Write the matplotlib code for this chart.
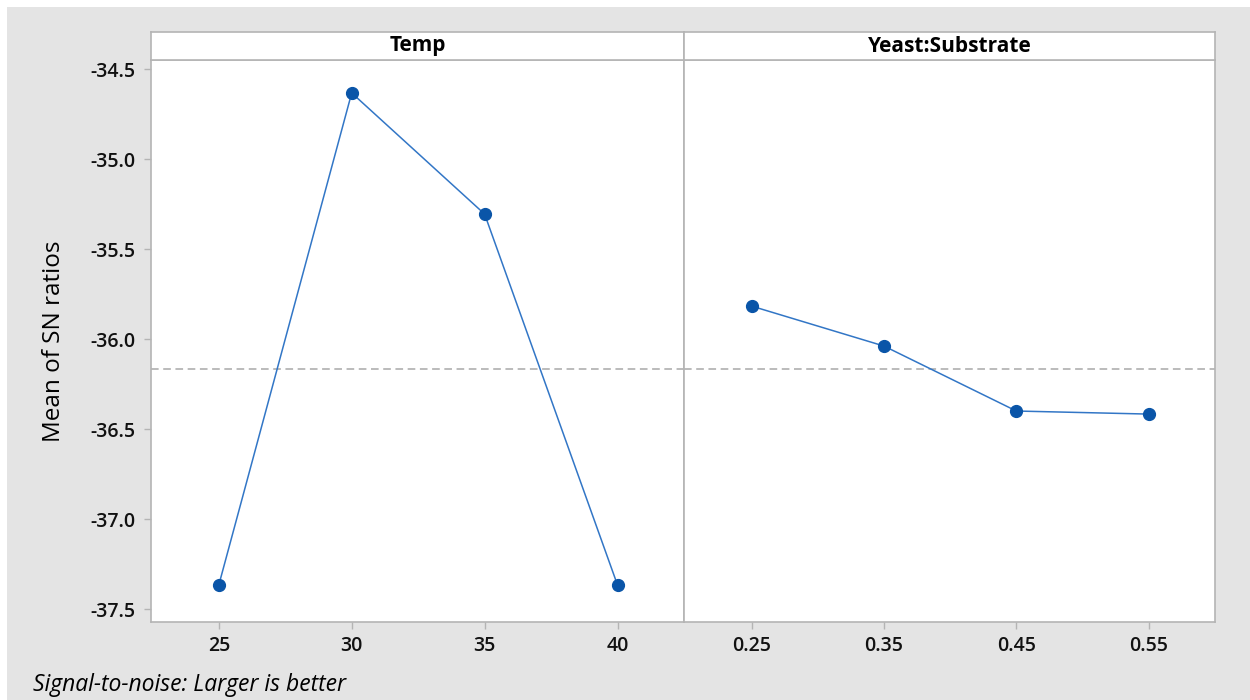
import numpy as np
import matplotlib.pyplot as plt
from matplotlib.patches import Rectangle

plt.rcParams['font.family'] = ['Open Sans', 'DejaVu Sans']

# data
temp_levels = ["25", "30", "35", "40"]
temp_sn = [-37.367, -34.633, -35.306, -37.367]
ys_levels = ["0.25", "0.35", "0.45", "0.55"]
ys_sn = [-35.817, -36.039, -36.400, -36.417]
panel_titles = ["Temp", "Yeast:Substrate"]

grand_mean = np.mean(temp_sn + ys_sn)

line_col = "#3276c6"
mark_col = "#0a55a8"
edge_col = "#b4b4b4"

fig = plt.figure(figsize=(12.5, 7), dpi=100)
fig.patches.append(Rectangle((7 / 1250, 0), 1, 1 - 7 / 700, transform=fig.transFigure,
                             facecolor="#e4e4e4", edgecolor="none", zorder=-10))

bottom = 1 - 622 / 700
height = (622 - 60) / 700
strip_h = 28 / 700
lefts = [151 / 1250, 684 / 1250]
widths = [533 / 1250, 531 / 1250]

panels = [(temp_levels, temp_sn), (ys_levels, ys_sn)]
for i, (levels, vals) in enumerate(panels):
    ax = fig.add_axes([lefts[i], bottom, widths[i], height])
    x = np.arange(len(levels))
    ax.axhline(grand_mean, color="#a8a8a8", lw=1.1, ls=(0, (5, 3)), zorder=1)
    ax.plot(x, vals, color=line_col, lw=1.1, zorder=2)
    ax.plot(x, vals, "o", color=mark_col, ms=8.5, zorder=3)
    ax.set_xlim(-0.51, 3.5)
    ax.set_ylim(-37.572, -34.45)
    ax.set_xticks(x)
    ax.set_xticklabels(levels)
    for s in ax.spines.values():
        s.set_color(edge_col)
        s.set_linewidth(1.2)
    ax.tick_params(axis="both", colors=edge_col, labelcolor="#111111", length=5,
                   labelsize=14, width=1)
    ax.tick_params(axis="x", pad=5)
    ax.tick_params(axis="y", pad=6)
    for lab in ax.get_xticklabels():
        lab.set_fontweight("semibold")
    if i == 0:
        ax.set_yticks([-34.5, -35.0, -35.5, -36.0, -36.5, -37.0, -37.5])
        ax.set_yticklabels(["-34.5", "-35.0", "-35.5", "-36.0", "-36.5", "-37.0", "-37.5"])
        for lab in ax.get_yticklabels():
            lab.set_fontweight("semibold")
        ax.set_ylabel("Mean of SN ratios", fontsize=17.5, labelpad=18)
    else:
        ax.set_yticks([])

    sax = fig.add_axes([lefts[i], bottom + height, widths[i], strip_h])
    sax.set_xticks([])
    sax.set_yticks([])
    for s in sax.spines.values():
        s.set_color(edge_col)
        s.set_linewidth(1.2)
    sax.text(0.5, 0.5, panel_titles[i], ha="center", va="center", fontsize=15,
             fontweight="bold", transform=sax.transAxes)

fig.text(33 / 1250, 1 - 685 / 700, "Signal-to-noise: Larger is better", fontsize=16.5,
         style="italic", va="center", ha="left")

fig.savefig("out.png", dpi=100)
